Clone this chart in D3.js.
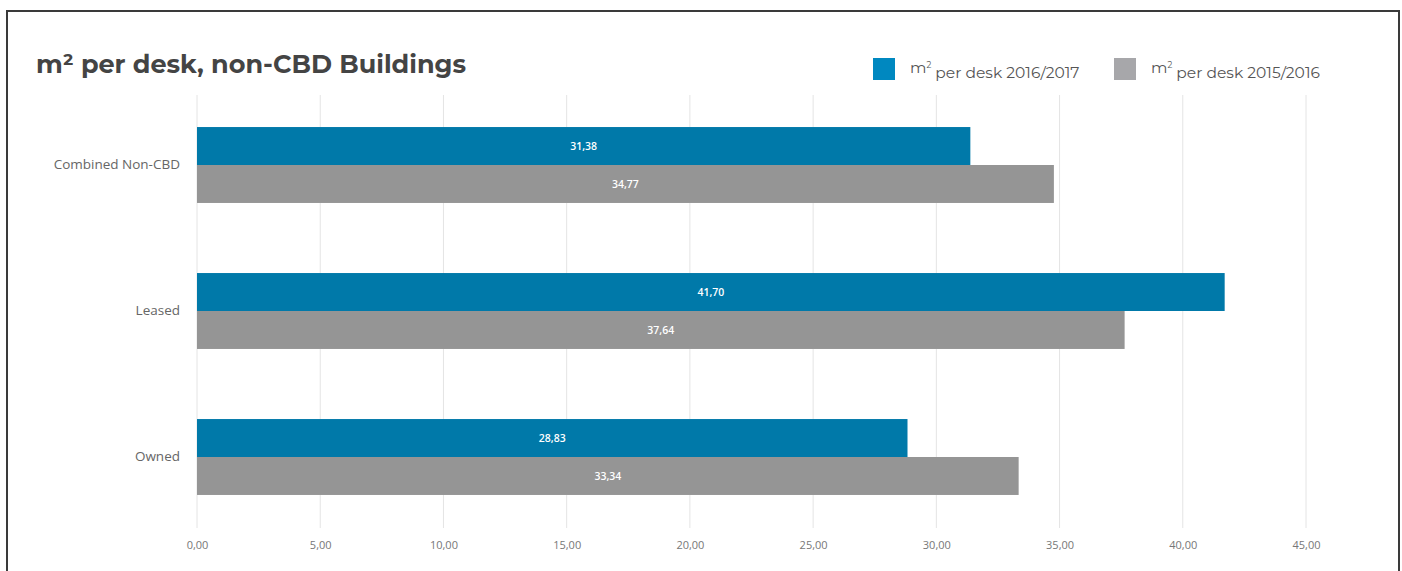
<!DOCTYPE html>
<html>
<head>
<meta charset="utf-8">
<script src="https://cdn.jsdelivr.net/npm/d3@7"></script>
<style>
  html, body { margin: 0; padding: 0; background: #fff; }
  svg { display: block; }
</style>
</head>
<body>
<svg id="chart" width="1402" height="571"></svg>
<script>
// Categories and series (m² per desk)
const categories = ["Combined Non-CBD", "Leased", "Owned"];
const series2017 = [31.38, 41.70, 28.83];
const series2016 = [34.77, 37.64, 33.34];
const seriesNames = ["m² per desk 2016/2017", "m² per desk 2015/2016"];
const tickValues = [0, 5, 10, 15, 20, 25, 30, 35, 40, 45];
const titleText = "m² per desk, non-CBD Buildings";

const colors = ["#0079a9", "#959595"];
const legendColors = ["#0088c0", "#a7a7aa"];

const svg = d3.select("#chart");
const fmt = v => d3.format(".2f")(v).replace(".", ",");

// Frame
svg.append("path")
  .attr("d", "M7,571 V11 H1399 V571")
  .attr("fill", "none")
  .attr("stroke", "#3a3a3a")
  .attr("stroke-width", 2);

// Title
svg.append("text")
  .attr("x", 36).attr("y", 73)
  .attr("font-family", "Montserrat, 'Open Sans', sans-serif")
  .attr("font-weight", 700)
  .attr("font-size", 25.5)
  .attr("fill", "#444")
  .text(titleText);

const x = d3.scaleLinear().domain([0, 45]).range([197, 1306]);
const y = d3.scaleBand().domain(categories).range([92, 530]).paddingInner(0.48).paddingOuter(0.24);
const sub = d3.scaleBand().domain([0, 1]).range([0, y.bandwidth()]);

// Gridlines
svg.append("g")
  .selectAll("line")
  .data(tickValues)
  .join("line")
  .attr("x1", d => x(d)).attr("x2", d => x(d))
  .attr("y1", 95).attr("y2", 528)
  .attr("stroke", "#e4e4e4")
  .attr("stroke-width", 1);

// Bottom axis labels
const xAxis = d3.axisBottom(x).tickValues(tickValues).tickFormat(fmt).tickSize(0).tickPadding(0);
const gx = svg.append("g").attr("transform", "translate(0,541)").call(xAxis);
gx.select(".domain").remove();
gx.selectAll("text")
  .attr("font-family", "'Open Sans', sans-serif")
  .attr("font-size", 11)
  .attr("fill", "#777")
  .attr("dy", "0.71em");

// Category labels
const yAxis = d3.axisLeft(y).tickSize(0).tickPadding(17);
const gy = svg.append("g").attr("transform", "translate(197,0)").call(yAxis);
gy.select(".domain").remove();
gy.selectAll("text")
  .attr("font-family", "'Open Sans', sans-serif")
  .attr("font-size", 13.5)
  .attr("fill", "#666");

// Bars
const rows = categories.map((c, i) => ({ c, vals: [series2017[i], series2016[i]] }));
const groups = svg.append("g").selectAll("g")
  .data(rows)
  .join("g")
  .attr("transform", d => `translate(0,${y(d.c)})`);

groups.selectAll("rect")
  .data(d => d.vals.map((v, k) => ({ v, k })))
  .join("rect")
  .attr("x", x(0))
  .attr("y", d => sub(d.k))
  .attr("width", d => x(d.v) - x(0))
  .attr("height", sub.bandwidth())
  .attr("fill", d => colors[d.k]);

groups.selectAll("text.val")
  .data(d => d.vals.map((v, k) => ({ v, k })))
  .join("text")
  .attr("class", "val")
  .attr("x", d => x(0) + (x(d.v) - x(0)) / 2)
  .attr("y", d => sub(d.k) + sub.bandwidth() / 2)
  .attr("dy", "0.35em")
  .attr("text-anchor", "middle")
  .attr("font-family", "'Open Sans', sans-serif")
  .attr("font-weight", 600)
  .attr("font-size", 10.5)
  .attr("fill", "#fff")
  .text(d => fmt(d.v));

// Legend
const legendX = [873, 1114];
const legend = svg.append("g").selectAll("g")
  .data(seriesNames)
  .join("g")
  .attr("transform", (d, i) => `translate(${legendX[i]},58)`);
legend.append("rect")
  .attr("width", 22).attr("height", 22)
  .attr("fill", (d, i) => legendColors[i]);
legend.append("text")
  .attr("x", 37).attr("y", 10)
  .attr("dy", "0.35em")
  .attr("font-family", "Montserrat, 'Open Sans', sans-serif")
  .attr("font-size", 15.5)
  .attr("fill", "#555")
  .each(function(d) {
    const t = d3.select(this);
    const parts = d.split("²");
    t.append("tspan").text(parts[0]);
    t.append("tspan").attr("font-size", 8.5).attr("dy", "-0.65em").text("2");
    t.append("tspan").attr("dy", "0.65em").text(parts[1]);
  });
</script>
</body>
</html>
